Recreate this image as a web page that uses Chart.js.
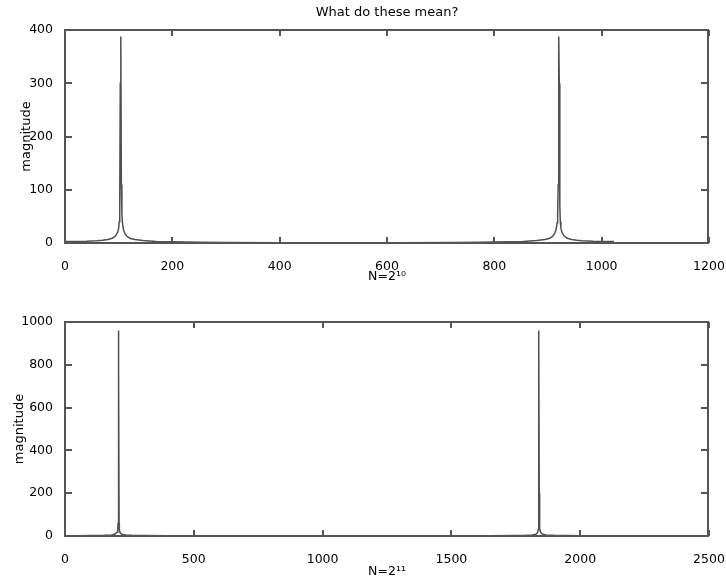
<!DOCTYPE html>
<html>
<head>
<meta charset="utf-8">
<script src="https://cdn.jsdelivr.net/npm/chart.js@4.4.1/dist/chart.umd.min.js"></script>
<style>
  html, body { margin: 0; padding: 0; background: #fff; }
  #wrap { position: relative; width: 726px; height: 581px; background: #fff; }
  canvas { position: absolute; left: 0; }
</style>
</head>
<body>
<div id="wrap">
  <canvas id="c1" width="726" height="290" style="top:0"></canvas>
  <canvas id="c2" width="726" height="291" style="top:290px"></canvas>
</div>
<script>
// ---- Data (FFT magnitude, N = 2^10) ----
const binsTop = [0, 20, 40, 60, 70, 80, 88, 94, 98, 100, 101, 102, 103, 104, 105, 106, 107, 109, 112, 116, 122, 130, 145, 170, 200, 250, 300, 400, 512,
                 624, 724, 774, 824, 854, 879, 894, 902, 908, 912, 915, 917, 918, 919, 920, 921, 922, 923, 924, 926, 930, 936, 944, 954, 964, 984, 1004, 1023];
const magTop  = [3, 3, 3.2, 4, 5, 6.5, 9, 13, 20, 28, 40, 70, 300, 388, 110, 55, 38, 25, 17, 12, 8.5, 6.5, 4.5, 3, 2.5, 1.5, 1, 0.7, 0.6,
                 0.7, 1, 1.5, 2.5, 3, 4.5, 6.5, 8.5, 12, 17, 25, 38, 55, 110, 388, 300, 70, 40, 28, 20, 13, 9, 6.5, 5, 4, 3.2, 3, 3];

// ---- Data (FFT magnitude, N = 2^11) ----
const binsBot = [0, 50, 100, 150, 180, 195, 202, 205, 206, 207, 208, 209, 210, 211, 214, 220, 235, 260, 300, 400, 600, 1024,
                 1448, 1648, 1748, 1788, 1813, 1828, 1834, 1837, 1838, 1839, 1840, 1841, 1842, 1843, 1846, 1853, 1868, 1898, 1948, 1998, 2047];
const magBot  = [1.5, 1.5, 2, 3, 5, 9, 18, 35, 60, 200, 960, 760, 60, 30, 15, 8, 5, 3, 2.5, 1.5, 1, 0.8,
                 1, 1.5, 2.5, 3, 5, 8, 15, 30, 60, 760, 960, 200, 60, 35, 18, 9, 5, 3, 2, 1.5, 1.5];

const titleText = 'What do these mean?';
const yLabel = 'magnitude';
const xLabelTop = 'N=2¹⁰';
const xLabelBot = 'N=2¹¹';
const xTicksTop = [0, 200, 400, 600, 800, 1000, 1200];
const yTicksTop = [0, 100, 200, 300, 400];
const xTicksBot = [0, 500, 1000, 1500, 2000, 2500];
const yTicksBot = [0, 200, 400, 600, 800, 1000];

const FONT = 'DejaVu Sans';
const FRAME = '#555';

// MATLAB-style boxed axes with inward tick marks on all four sides
const boxPlugin = {
  id: 'axesBox',
  afterDraw(chart) {
    const {ctx, chartArea: a} = chart;
    const xs = chart.scales.x, ys = chart.scales.y;
    const L = Math.round(a.left), R = Math.round(a.right) - 1;
    const T = Math.round(a.top), B = Math.round(a.bottom);
    ctx.save();
    ctx.strokeStyle = FRAME;
    ctx.lineWidth = 2;
    ctx.strokeRect(L, T, R - L, B - T);
    xs.ticks.forEach(t => {
      const px = Math.round(xs.getPixelForValue(t.value));
      ctx.beginPath();
      ctx.moveTo(px, B); ctx.lineTo(px, B - 6);
      ctx.moveTo(px, T); ctx.lineTo(px, T + 6);
      ctx.stroke();
    });
    ys.ticks.forEach(t => {
      const py = Math.round(ys.getPixelForValue(t.value));
      ctx.beginPath();
      ctx.moveTo(L, py); ctx.lineTo(L + 7, py);
      ctx.moveTo(R, py); ctx.lineTo(R - 7, py);
      ctx.stroke();
    });
    ctx.restore();
  }
};

const titlePlugin = {
  id: 'topTitle',
  afterDraw(chart) {
    if (chart.canvas.id !== 'c1') return;
    const {ctx, chartArea: a} = chart;
    ctx.save();
    ctx.fillStyle = '#000';
    ctx.font = '13px "' + FONT + '"';
    ctx.textAlign = 'center';
    ctx.textBaseline = 'middle';
    ctx.fillText(titleText, (a.left + a.right) / 2, 13);
    ctx.restore();
  }
};

function makeChart(id, bins, mags, xTicks, yTicks, xLabel, padTop, xH, xTitlePad, yTitlePad) {
  const pts = bins.map((b, i) => ({x: b, y: mags[i]}));
  return new Chart(document.getElementById(id), {
    type: 'line',
    data: {
      datasets: [{ data: pts, borderColor: '#505050', borderWidth: 1.5, pointRadius: 0, fill: false, tension: 0 }]
    },
    options: {
      responsive: false,
      animation: false,
      devicePixelRatio: 1,
      layout: {padding: {left: 0, right: 17, top: padTop, bottom: 0}},
      plugins: {legend: {display: false}, tooltip: {enabled: false}, title: {display: false}},
      scales: {
        x: {
          type: 'linear',
          min: xTicks[0], max: xTicks[xTicks.length - 1],
          afterBuildTicks: s => { s.ticks = xTicks.map(v => ({value: v})); },
          afterFit: s => { s.height = xH; s.paddingLeft = 0; s.paddingRight = 0; },
          grid: {display: false},
          border: {display: false},
          ticks: {color: '#000', font: {family: FONT, size: 12.5}, padding: 8.5, maxRotation: 0, callback: v => String(v)},
          title: {display: true, text: xLabel, color: '#000', font: {family: FONT, size: 12.5}, padding: {top: 0, bottom: xTitlePad}}
        },
        y: {
          type: 'linear',
          min: yTicks[0], max: yTicks[yTicks.length - 1],
          afterBuildTicks: s => { s.ticks = yTicks.map(v => ({value: v})); },
          afterFit: s => { s.width = 65; s.paddingTop = 0; s.paddingBottom = 0; },
          grid: {display: false},
          border: {display: false},
          ticks: {color: '#000', font: {family: FONT, size: 12.5}, padding: 4, callback: v => String(v)},
          title: {display: true, text: yLabel, color: '#000', font: {family: FONT, size: 13}, padding: {top: yTitlePad, bottom: 0}}
        }
      }
    },
    plugins: [boxPlugin, titlePlugin]
  });
}

makeChart('c1', binsTop, magTop, xTicksTop, yTicksTop, xLabelTop, 30, 47, 6, 19);
makeChart('c2', binsBot, magBot, xTicksBot, yTicksBot, xLabelBot, 32, 45, 2, 12);
</script>
</body>
</html>
